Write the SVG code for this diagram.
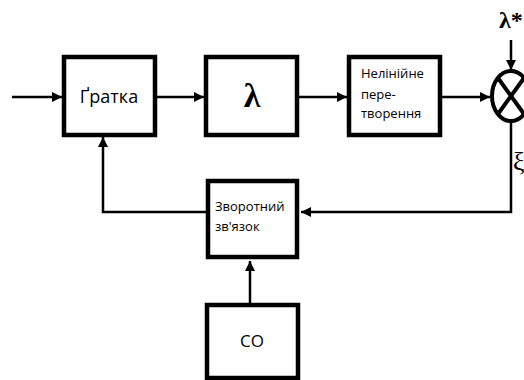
<svg xmlns="http://www.w3.org/2000/svg" width="524" height="380" viewBox="0 0 524 380">
  <style>
    .box { fill: #fff; stroke: #000; stroke-width: 4.5; }
    .wire { fill: none; stroke: #000; stroke-width: 2.5; }
    .lbl { font-family: "Open Sans", "Liberation Sans", sans-serif; fill: #000; }
    .sym { font-family: "Liberation Serif", serif; font-weight: bold; fill: #000; }
  </style>
  <defs>
    <marker id="arr" viewBox="0 0 10 10" refX="10" refY="5" markerWidth="4" markerHeight="4" orient="auto" markerUnits="strokeWidth">
      <path d="M0,0 L10,5 L0,10 z" fill="#000"/>
    </marker>
  </defs>

  <!-- connectors -->
  <g id="connectors">
    <line class="wire" x1="12" y1="97" x2="62" y2="97" marker-end="url(#arr)"/>
    <line class="wire" x1="157" y1="97" x2="204" y2="97" marker-end="url(#arr)"/>
    <line class="wire" x1="299" y1="97" x2="347" y2="97" marker-end="url(#arr)"/>
    <line class="wire" x1="442" y1="97" x2="490" y2="97" marker-end="url(#arr)"/>
    <line class="wire" x1="511" y1="40" x2="511" y2="70" marker-end="url(#arr)"/>
    <polyline class="wire" points="511,122 511,212 301,212" marker-end="url(#arr)"/>
    <polyline class="wire" points="206,212 103,212 103,137" marker-end="url(#arr)"/>
    <line class="wire" x1="250" y1="303" x2="250" y2="261" marker-end="url(#arr)"/>
  </g>

  <g id="gratka">
    <rect class="box" x="64" y="57" width="91" height="78"/>
    <text class="lbl" x="109" y="103" font-size="18" text-anchor="middle">Ґратка</text>
  </g>

  <g id="lambda">
    <rect class="box" x="206" y="57" width="91" height="78"/>
    <text class="sym" x="252" y="107" font-size="34" text-anchor="middle">λ</text>
  </g>

  <g id="nonlinear">
    <rect class="box" x="349" y="57" width="91" height="78"/>
    <text class="lbl" x="361" y="78" font-size="13">Нелінійне</text>
    <text class="lbl" x="361" y="99" font-size="13">пере-</text>
    <text class="lbl" x="361" y="118" font-size="13">творення</text>
  </g>

  <g id="mixer">
    <ellipse cx="511" cy="96" rx="19" ry="25" fill="#fff" stroke="#000" stroke-width="4"/>
    <line x1="498" y1="78" x2="524" y2="114" stroke="#000" stroke-width="4"/>
    <line x1="498" y1="114" x2="524" y2="78" stroke="#000" stroke-width="4"/>
    <text class="sym" x="499" y="28" font-size="24">λ*</text>
    <text x="513" y="170" font-family="Liberation Serif, serif" font-size="26" fill="#000">ξ</text>
  </g>

  <g id="feedback">
    <rect class="box" x="208" y="181" width="89" height="76"/>
    <text class="lbl" x="215" y="211" font-size="13">Зворотний</text>
    <text class="lbl" x="215" y="231" font-size="13">зв'язок</text>
  </g>

  <g id="co">
    <rect class="box" x="207" y="305" width="91" height="73"/>
    <text class="lbl" x="252" y="347" font-size="17" text-anchor="middle">CO</text>
  </g>
</svg>
